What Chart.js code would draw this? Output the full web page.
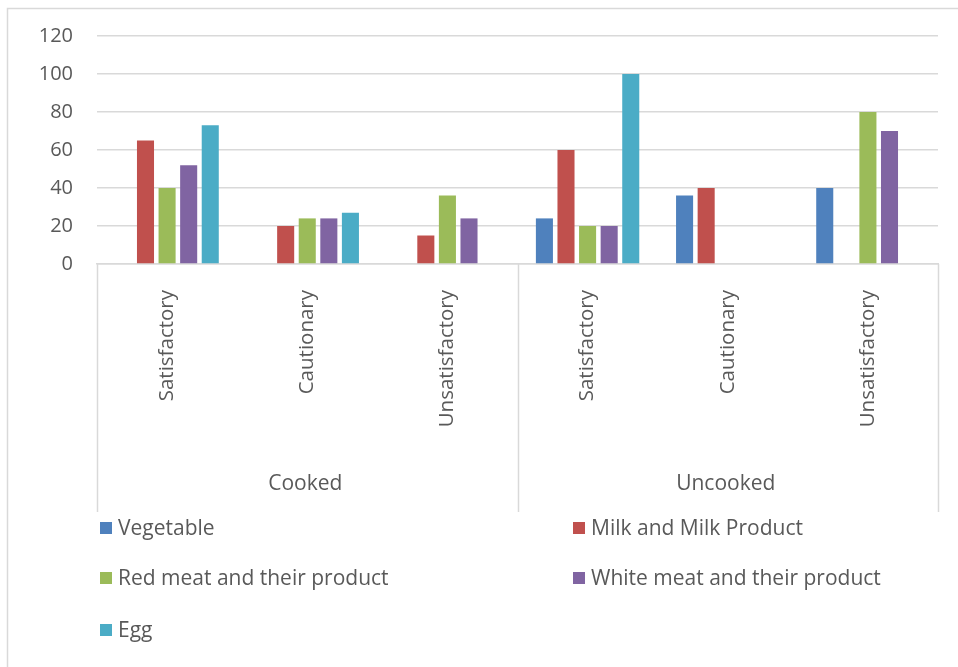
<!DOCTYPE html>
<html>
<head>
<meta charset="utf-8">
<script src="https://cdn.jsdelivr.net/npm/chart.js@4.4.1/dist/chart.umd.min.js"></script>
<style>
  html, body { margin: 0; padding: 0; background: #ffffff; }
  #wrap { position: relative; width: 958px; height: 667px; }
</style>
</head>
<body>
<div id="wrap"><canvas id="c" width="958" height="667"></canvas></div>
<script>
// ---- data ----
const categories = ['Satisfactory', 'Cautionary', 'Unsatisfactory', 'Satisfactory', 'Cautionary', 'Unsatisfactory'];
const groups = ['Cooked', 'Uncooked'];
const groupSize = 3;
const seriesNames = ['Vegetable', 'Milk and Milk Product', 'Red meat and their product', 'White meat and their product', 'Egg'];
const vegetable = [null, null, null, 24, 36, 40];
const milk = [65, 20, 15, 60, 40, null];
const redMeat = [40, 24, 36, 20, null, 80];
const whiteMeat = [52, 24, 24, 20, null, 70];
const egg = [73, 27, null, 100, null, null];
const yTicks = [0, 20, 40, 60, 80, 100, 120];

const colors = ['#4F81BD', '#C0504D', '#9BBB59', '#8064A2', '#4BACC6'];
const seriesValues = [vegetable, milk, redMeat, whiteMeat, egg];
const FONT = '"Open Sans", "DejaVu Sans", sans-serif';
const TXT = '#595959';

const groupPlugin = {
  id: 'groupAxis',
  afterDraw(chart) {
    const ctx = chart.ctx;
    const x = chart.scales.x;
    const top = x.top;
    const bottom = x.bottom;
    ctx.save();
    // frame
    ctx.strokeStyle = '#d9d9d9';
    ctx.lineWidth = 1.5;
    ctx.strokeRect(7.5, 8.5, 958, 680);
    // separators
    const bounds = [x.left];
    for (let g = 1; g < groups.length; g++) {
      const a = x.getPixelForValue(g * groupSize - 1);
      const b = x.getPixelForValue(g * groupSize);
      bounds.push((a + b) / 2);
    }
    bounds.push(x.right);
    ctx.strokeStyle = '#d9d9d9';
    ctx.lineWidth = 1.5;
    bounds.forEach(bx => {
      ctx.beginPath();
      ctx.moveTo(Math.round(bx) + 0.5, top);
      ctx.lineTo(Math.round(bx) + 0.5, bottom);
      ctx.stroke();
    });
    ctx.fillStyle = TXT;
    ctx.font = '21px ' + FONT;
    ctx.textAlign = 'center';
    ctx.textBaseline = 'middle';
    groups.forEach((g, i) => {
      ctx.fillText(g, (bounds[i] + bounds[i + 1]) / 2 - 2, 484);
    });
    // legend (two columns)
    const colX = [100, 573];
    const rowY = [528, 578, 630];
    ctx.textAlign = 'left';
    chart.data.datasets.forEach((ds, i) => {
      const cx = colX[i % 2];
      const cy = rowY[Math.floor(i / 2)];
      ctx.fillStyle = ds.backgroundColor;
      ctx.fillRect(cx, cy - 6, 12, 12);
      ctx.fillStyle = TXT;
      ctx.fillText(ds.label, cx + 18, cy + 1);
    });
    ctx.restore();
  }
};

new Chart(document.getElementById('c'), {
  type: 'bar',
  data: {
    labels: categories,
    datasets: seriesNames.map((n, i) => ({
      label: n,
      data: seriesValues[i],
      backgroundColor: colors[i],
      borderWidth: 0,
      categoryPercentage: 0.77,
      barPercentage: 0.79
    }))
  },
  options: {
    responsive: false,
    devicePixelRatio: 1,
    animation: false,
    layout: { padding: { left: 0, right: 20, top: 36, bottom: 155 } },
    plugins: { legend: { display: false }, tooltip: { enabled: false } },
    scales: {
      x: {
        grid: { display: false, drawTicks: false },
        border: { display: true, color: '#d9d9d9', width: 1.5 },
        ticks: {
          color: TXT,
          font: { family: FONT, size: 20.5 },
          minRotation: 90,
          maxRotation: 90,
          padding: 26,
          autoSkip: false
        },
        afterFit(scale) { scale.height = 248; }
      },
      y: {
        min: 0,
        max: 120,
        afterBuildTicks(scale) { scale.ticks = yTicks.map(v => ({ value: v })); },
        grid: { color: '#d9d9d9', lineWidth: 1.5, drawTicks: false },
        border: { display: false },
        ticks: {
          color: TXT,
          font: { family: FONT, size: 20 },
          padding: 24
        },
        afterFit(scale) { scale.width = 97; }
      }
    }
  },
  plugins: [groupPlugin]
});
</script>
</body>
</html>
